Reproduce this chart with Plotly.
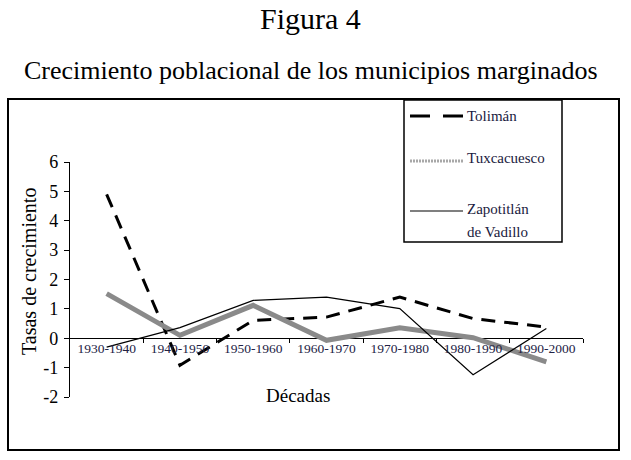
import plotly.graph_objects as go

# Decades and growth rates (%) per municipality
decadas = ["1930-1940", "1940-1950", "1950-1960", "1960-1970",
           "1970-1980", "1980-1990", "1990-2000"]
toliman = [4.9, -0.92, 0.61, 0.72, 1.40, 0.67, 0.38]
tuxcacuesco = [1.52, 0.10, 1.12, -0.07, 0.36, 0.02, -0.80]
zapotitlan = [-0.30, 0.36, 1.29, 1.40, 1.01, -1.24, 0.33]
y_ticks = [-2, -1, 0, 1, 2, 3, 4, 5, 6]
y_ticktext = [str(v) for v in y_ticks]  # plain hyphen for negatives

W, H = 631, 460
L, R, T, B = 70, 48, 162, 63
PW, PH = W - L - R, H - T - B
FONT = "Liberation Serif"


def px(x):
    return (x - L) / PW


def py(y):
    return (H - B - y) / PH


xs = list(range(len(decadas)))

fig = go.Figure()
fig.add_trace(go.Scatter(x=xs, y=toliman, mode="lines", name="Tolimán",
                         line=dict(color="black", width=3, dash="14px,9px")))
fig.add_trace(go.Scatter(x=xs, y=tuxcacuesco, mode="lines", name="Tuxcacuesco",
                         line=dict(color="#8a8a8a", width=5)))
fig.add_trace(go.Scatter(x=xs, y=zapotitlan, mode="lines",
                         name="Zapotitlán de Vadillo",
                         line=dict(color="black", width=1.2)))

fig.update_layout(
    width=W, height=H,
    margin=dict(l=L, r=R, t=T, b=B, pad=0),
    paper_bgcolor="white", plot_bgcolor="white",
    showlegend=False,
    font=dict(family=FONT, color="black"),
    xaxis=dict(
        range=[-0.5, len(decadas) - 0.5],
        anchor="free", position=0.25,
        tickmode="array", tickvals=xs, ticktext=decadas,
        ticks="", showgrid=False, zeroline=False,
        showline=False,
        tickfont=dict(family=FONT, size=13.5, color="#222244"),
        minor=dict(tickmode="array",
                   tickvals=[i + 0.5 for i in xs],
                   ticks="outside", ticklen=4, tickcolor="black", showgrid=False),
        fixedrange=True,
    ),
    yaxis=dict(
        range=[-2, 6], tickmode="array", tickvals=y_ticks, ticktext=y_ticktext,
        ticks="outside", ticklen=5, tickcolor="black",
        showline=True, linecolor="black", linewidth=1.2,
        showgrid=False, zeroline=True, zerolinecolor="black", zerolinewidth=1.2,
        tickfont=dict(family=FONT, size=18),
        ticklabelstandoff=2,
        fixedrange=True,
    ),
)

# Outer frame
fig.add_shape(type="rect", xref="paper", yref="paper",
              x0=px(8), x1=px(619), y0=py(450), y1=py(99),
              line=dict(color="black", width=2))

# Legend box with line samples
fig.add_shape(type="rect", xref="paper", yref="paper",
              x0=px(404), x1=px(562), y0=py(242), y1=py(100),
              line=dict(color="black", width=1.5))
samples = [
    (116, dict(color="black", width=3, dash="20px,13px")),
    (161, dict(color="#a8a8a8", width=3, dash="2px,1px")),
    (211, dict(color="black", width=1.2)),
]
for yy, ln in samples:
    fig.add_shape(type="line", xref="paper", yref="paper",
                  x0=px(410), x1=px(463), y0=py(yy), y1=py(yy), line=ln)

legend_text = [(116, "Tolimán"), (158, "Tuxcacuesco"), (209, "Zapotitlán"),
               (232, "de Vadillo")]
for yy, txt in legend_text:
    fig.add_annotation(xref="paper", yref="paper", x=px(465), y=py(yy),
                       text=txt, showarrow=False, xanchor="left",
                       yanchor="middle",
                       font=dict(family=FONT, size=15, color="#1a1a40"))

# Titles
fig.add_annotation(xref="paper", yref="paper", x=px(310), y=py(18),
                   text="Figura 4", showarrow=False, xanchor="center",
                   yanchor="middle", font=dict(family=FONT, size=30))
fig.add_annotation(xref="paper", yref="paper", x=px(311), y=py(70),
                   text="Crecimiento poblacional de los municipios marginados",
                   showarrow=False, xanchor="center", yanchor="middle",
                   font=dict(family=FONT, size=26))
fig.add_annotation(xref="paper", yref="paper", x=px(298), y=py(395),
                   text="Décadas", showarrow=False, xanchor="center",
                   yanchor="middle", font=dict(family=FONT, size=19))
fig.add_annotation(xref="paper", yref="paper", x=px(29), y=py(272),
                   text="Tasas de crecimiento", showarrow=False, textangle=-90,
                   xanchor="center", yanchor="middle",
                   font=dict(family=FONT, size=20))

fig.write_html("out.html")
